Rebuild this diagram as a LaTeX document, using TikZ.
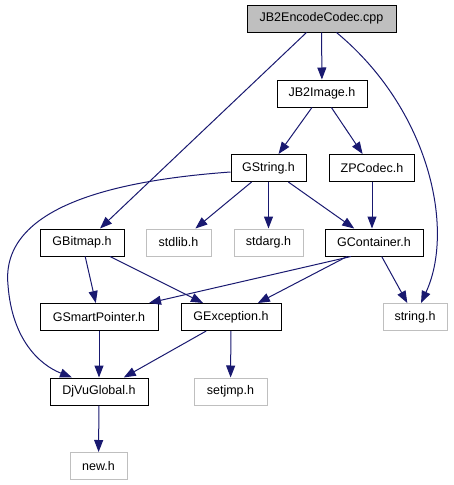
\documentclass[tikz,border=0pt]{standalone}
\usepackage{fontspec}
\setmainfont{Liberation Sans}
\usetikzlibrary{arrows.meta}
\definecolor{edgeblue}{HTML}{191970}
\definecolor{sysgray}{HTML}{BFBFBF}

\begin{document}
\begin{tikzpicture}[x=1pt, y=-1pt,
    file/.style={draw=black, line width=1pt, minimum height=27pt, inner sep=0pt, font=\fontsize{12.5}{14}\selectfont},
    sysfile/.style={file, draw=sysgray},
    dep/.style={draw=edgeblue, line width=1pt, -{Triangle[length=12pt,width=9pt]}}]

    \useasboundingbox (0,0) rectangle (453,485);

    % Files of the project
    \node[file, fill=sysgray, minimum width=149pt] (cpp) at (321.5, 18.5) {JB2EncodeCodec.cpp};
    \node[file, minimum width=90pt] (jbimg) at (322, 93.5) {JB2Image.h};
    \node[file, minimum width=75pt] (gstr) at (268.5, 168) {GString.h};
    \node[file, minimum width=85pt] (zpc) at (372, 168) {ZPCodec.h};
    \node[file, minimum width=84pt] (gbmp) at (82, 242.5) {GBitmap.h};
    \node[file, minimum width=98pt] (gcont) at (374, 242.5) {GContainer.h};
    \node[file, minimum width=118pt] (gsmp) at (99, 317) {GSmartPointer.h};
    \node[file, minimum width=100pt] (gexc) at (231, 317) {GException.h};
    \node[file, minimum width=98pt] (djvu) at (99, 391.5) {DjVuGlobal.h};

    % System headers
    \node[sysfile, minimum width=65pt] (stdlib) at (178.5, 242.5) {stdlib.h};
    \node[sysfile, minimum width=69pt] (stdarg) at (268.5, 242.5) {stdarg.h};
    \node[sysfile, minimum width=64pt] (strh) at (415, 317) {string.h};
    \node[sysfile, minimum width=73pt] (setjmp) at (230.5, 391.5) {setjmp.h};
    \node[sysfile, minimum width=57pt] (newh) at (98.5, 466) {new.h};

    % Straight dependencies
    \draw[dep] (cpp) -- (jbimg);
    \draw[dep] ([xshift=-15pt]cpp.south) -- ([xshift=18pt]gbmp.north);
    \draw[dep] (jbimg) -- (gstr);
    \draw[dep] (jbimg) -- (zpc);
    \draw[dep] (gstr) -- (stdlib);
    \draw[dep] (gstr) -- (stdarg);
    \draw[dep] (gstr) -- (gcont);
    \draw[dep] (zpc.south) -- ([xshift=-2pt]gcont.north);
    \draw[dep] (gbmp) -- (gsmp);
    \draw[dep] (gbmp) -- (gexc);
    \draw[dep] ([xshift=-23pt]gcont.south) -- ([xshift=50pt]gsmp.north);
    \draw[dep] (gcont) -- (gexc);
    \draw[dep] (gcont) -- (strh);
    \draw[dep] (gsmp) -- (djvu);
    \draw[dep] (gexc) -- (djvu);
    \draw[dep] (gexc) -- (setjmp);
    \draw[dep] (djvu) -- (newh);

    % Curved dependencies
    \draw[dep] ([xshift=15pt]cpp.south) .. controls (430,110) and (455,230) .. ([xshift=6pt]strh.north);
    \draw[dep] ([yshift=-4pt]gstr.west) .. controls (120,180) and (0,205) .. (8,285)
        .. controls (12,340) and (40,365) .. ([xshift=-27pt]djvu.north);

\end{tikzpicture}
\end{document}
